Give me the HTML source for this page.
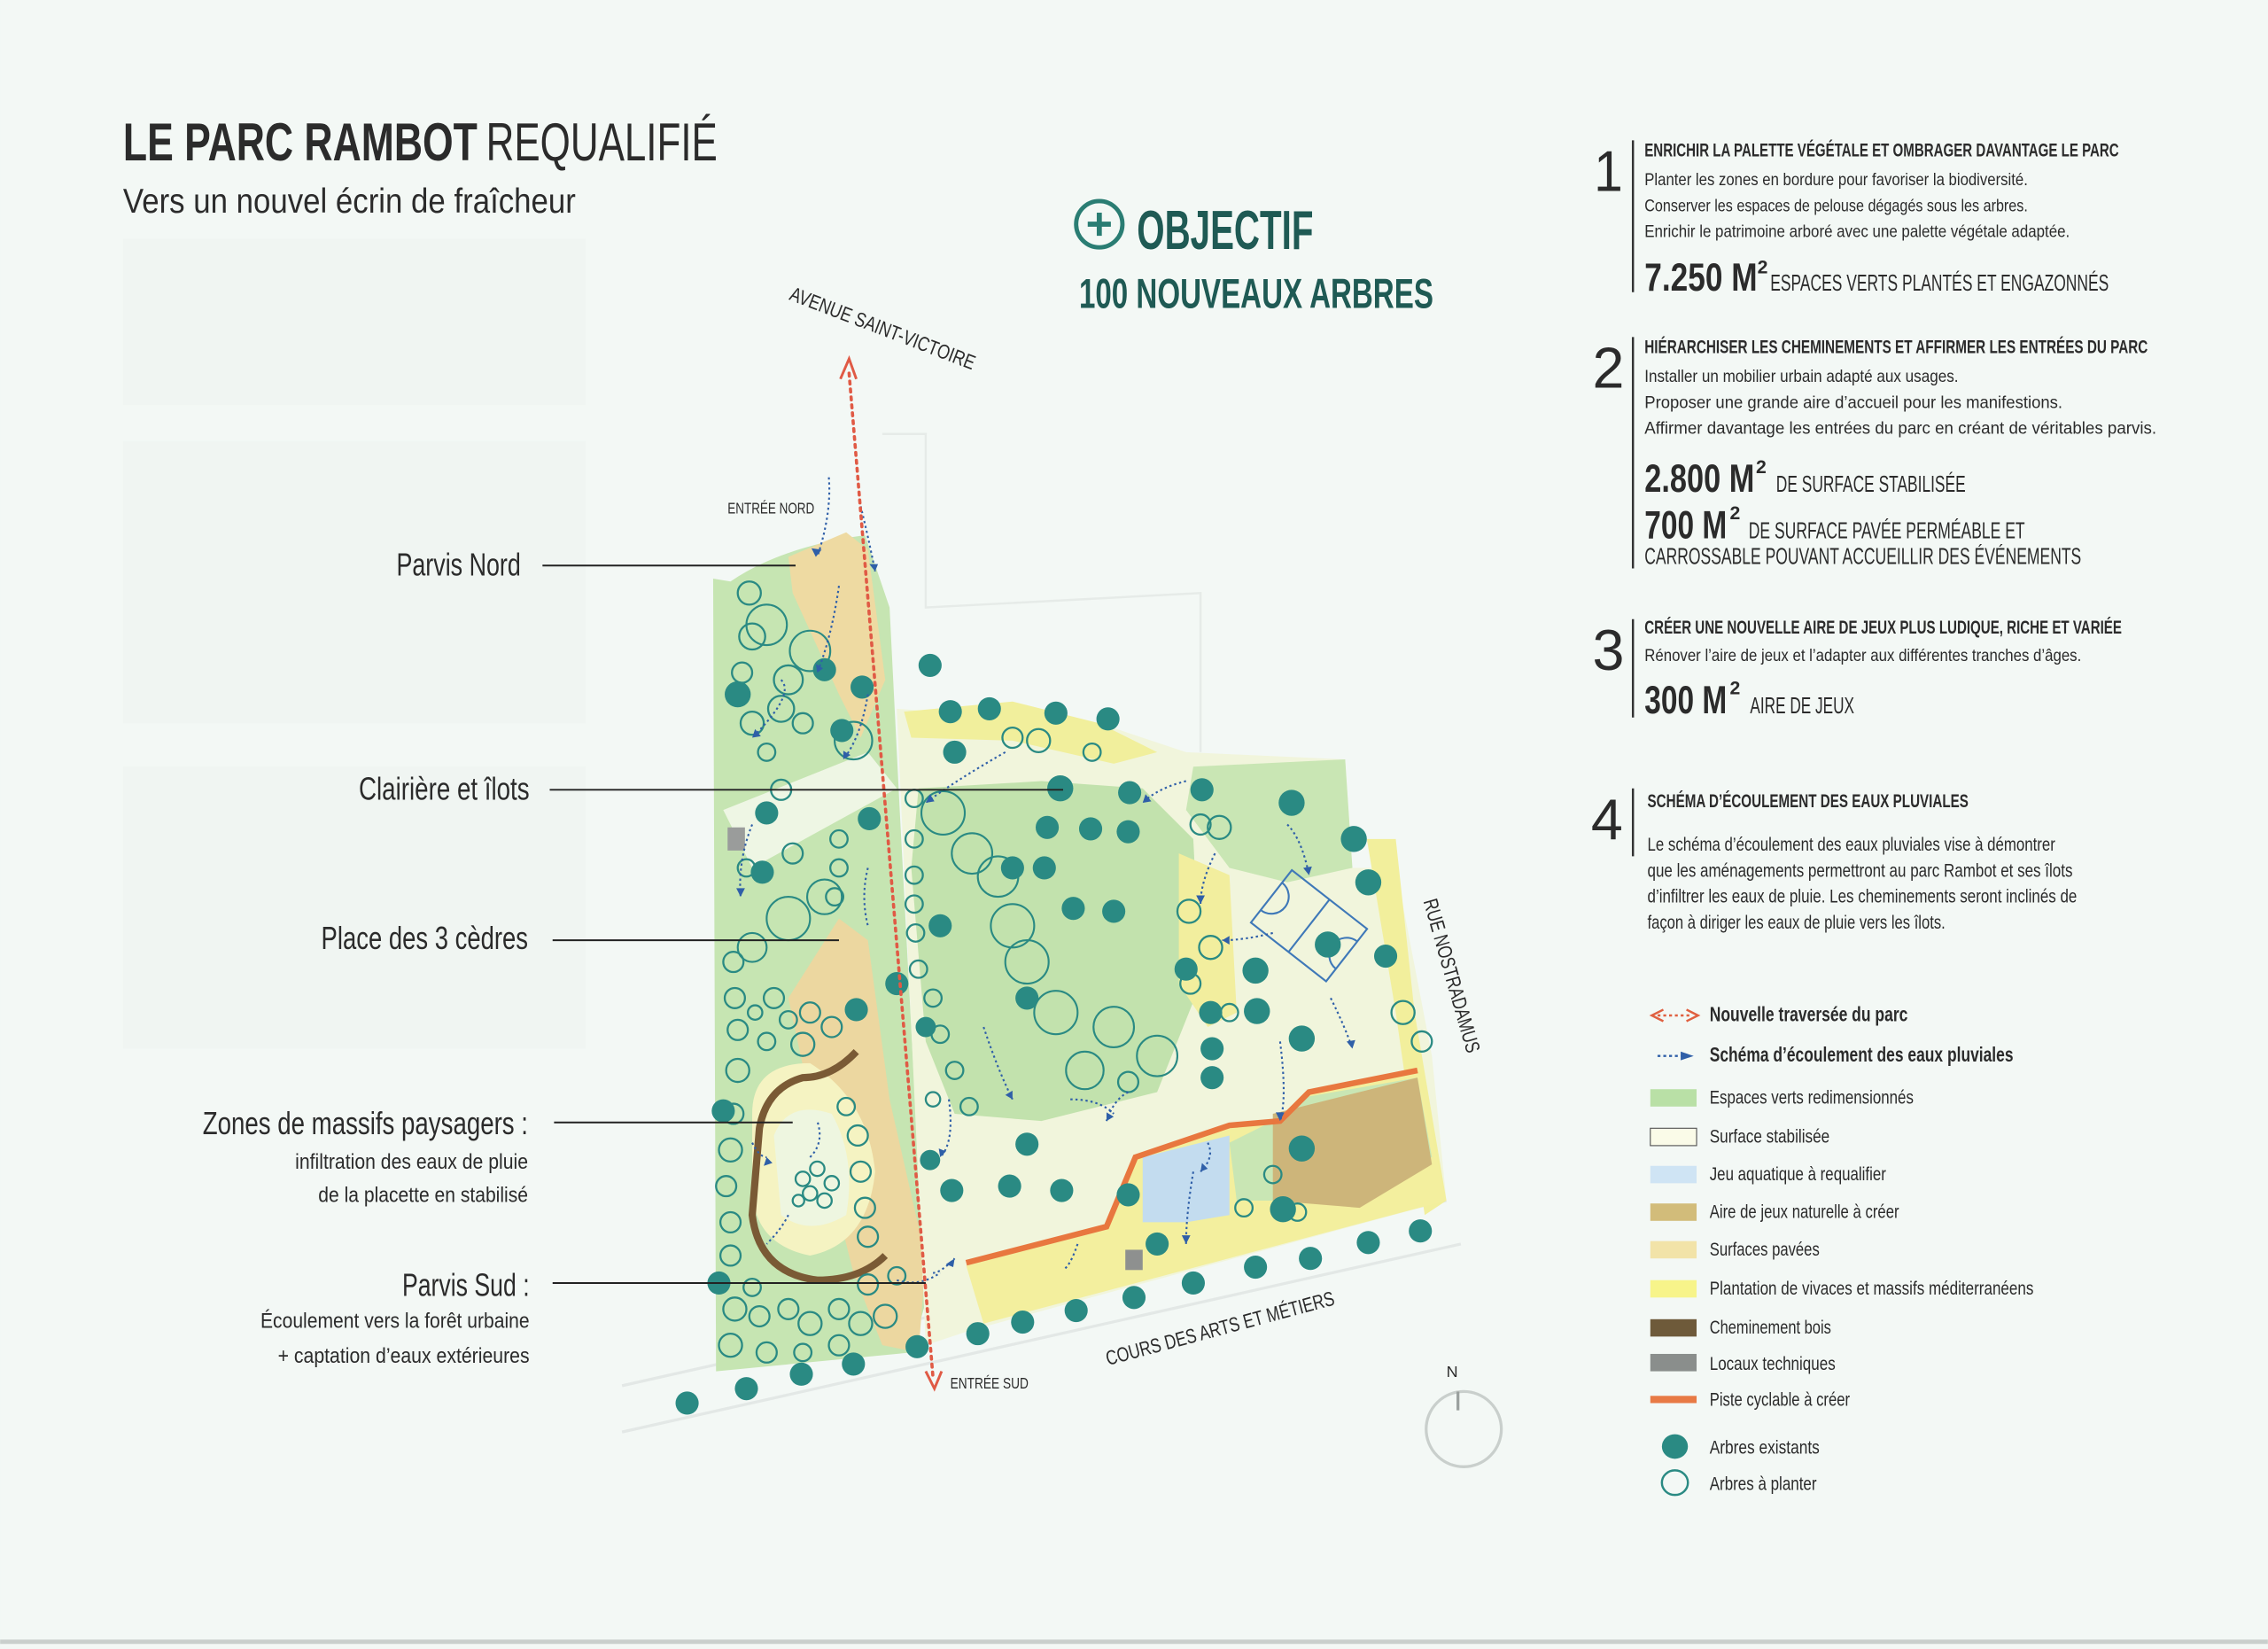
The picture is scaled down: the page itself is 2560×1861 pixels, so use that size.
<!DOCTYPE html>
<html><head><meta charset="utf-8">
<style>
html,body{margin:0;padding:0;background:#f3f8f5;}
svg{display:block;}
text{font-family:"Liberation Sans Narrow","Liberation Sans",sans-serif;fill:#2b2b2b;}
</style></head>
<body>
<svg width="2560" height="1861" viewBox="0 0 1568 1140" xmlns="http://www.w3.org/2000/svg">
<rect width="1568" height="1140" fill="#f3f8f5"/>
<g fill="#f0f5f2">
<rect x="85" y="165" width="320" height="115"/>
<rect x="85" y="305" width="320" height="195"/>
<rect x="85" y="530" width="320" height="195"/>
</g>
<g fill="none" stroke="#e6ebe8" stroke-width="1.5">
<path d="M610 300 L640 300 L640 420 L830 410 L830 520"/>
</g>
<line x1="0" y1="1135" x2="1568" y2="1135" stroke="#c9cfcc" stroke-width="3"/>

<text x="85" y="111" font-size="37" font-weight="bold" textLength="245" lengthAdjust="spacingAndGlyphs">LE PARC RAMBOT</text>
<text x="336" y="111" font-size="37" textLength="160" lengthAdjust="spacingAndGlyphs">REQUALIFIÉ</text>
<text x="85" y="147" font-size="24" textLength="313" lengthAdjust="spacingAndGlyphs">Vers un nouvel écrin de fraîcheur</text>

<circle cx="760" cy="155" r="16" fill="none" stroke="#2a7d73" stroke-width="3"/>
<path d="M752 155h16M760 147v16" stroke="#2a7d73" stroke-width="3.5"/>
<text x="786" y="172" font-size="38" font-weight="bold" style="fill:#1f5a54" textLength="122" lengthAdjust="spacingAndGlyphs">OBJECTIF</text>
<text x="746" y="213" font-size="29" font-weight="bold" style="fill:#1f5a54" textLength="245" lengthAdjust="spacingAndGlyphs">100 NOUVEAUX ARBRES</text>

<g>
<text x="1102" y="132" font-size="40" textLength="20" lengthAdjust="spacingAndGlyphs">1</text>
<line x1="1129" y1="97" x2="1129" y2="202" stroke="#333" stroke-width="1.5"/>
<text x="1137" y="108" font-size="13" font-weight="bold" textLength="328" lengthAdjust="spacingAndGlyphs">ENRICHIR LA PALETTE VÉGÉTALE ET OMBRAGER DAVANTAGE LE PARC</text>
<text x="1137" y="128" font-size="12" textLength="265" lengthAdjust="spacingAndGlyphs">Planter les zones en bordure pour favoriser la biodiversité.</text>
<text x="1137" y="146" font-size="12" textLength="265" lengthAdjust="spacingAndGlyphs">Conserver les espaces de pelouse dégagés sous les arbres.</text>
<text x="1137" y="164" font-size="12" textLength="294" lengthAdjust="spacingAndGlyphs">Enrichir le patrimoine arboré avec une palette végétale adaptée.</text>
<text x="1137" y="201" font-size="27" font-weight="bold" textLength="78" lengthAdjust="spacingAndGlyphs">7.250 M</text>
<text x="1215" y="189" font-size="13" font-weight="bold">2</text>
<text x="1224" y="201" font-size="16" textLength="234" lengthAdjust="spacingAndGlyphs">ESPACES VERTS PLANTÉS ET ENGAZONNÉS</text>

<text x="1101" y="268" font-size="40" textLength="22" lengthAdjust="spacingAndGlyphs">2</text>
<line x1="1129" y1="233" x2="1129" y2="393" stroke="#333" stroke-width="1.5"/>
<text x="1137" y="244" font-size="13" font-weight="bold" textLength="348" lengthAdjust="spacingAndGlyphs">HIÉRARCHISER LES CHEMINEMENTS ET AFFIRMER LES ENTRÉES DU PARC</text>
<text x="1137" y="264" font-size="12" textLength="217" lengthAdjust="spacingAndGlyphs">Installer un mobilier urbain adapté aux usages.</text>
<text x="1137" y="282" font-size="12" textLength="289" lengthAdjust="spacingAndGlyphs">Proposer une grande aire d’accueil pour les manifestions.</text>
<text x="1137" y="300" font-size="12" textLength="354" lengthAdjust="spacingAndGlyphs">Affirmer davantage les entrées du parc en créant de véritables parvis.</text>
<text x="1137" y="340" font-size="27" font-weight="bold" textLength="76" lengthAdjust="spacingAndGlyphs">2.800 M</text>
<text x="1214" y="327" font-size="13" font-weight="bold">2</text>
<text x="1228" y="340" font-size="16" textLength="131" lengthAdjust="spacingAndGlyphs">DE SURFACE STABILISÉE</text>
<text x="1137" y="372" font-size="27" font-weight="bold" textLength="57" lengthAdjust="spacingAndGlyphs">700 M</text>
<text x="1196" y="359" font-size="13" font-weight="bold">2</text>
<text x="1209" y="372" font-size="16" textLength="191" lengthAdjust="spacingAndGlyphs">DE SURFACE PAVÉE PERMÉABLE ET</text>
<text x="1137" y="390" font-size="16" textLength="302" lengthAdjust="spacingAndGlyphs">CARROSSABLE POUVANT ACCUEILLIR DES ÉVÉNEMENTS</text>

<text x="1101" y="463" font-size="40" textLength="22" lengthAdjust="spacingAndGlyphs">3</text>
<line x1="1129" y1="428" x2="1129" y2="496" stroke="#333" stroke-width="1.5"/>
<text x="1137" y="438" font-size="13" font-weight="bold" textLength="330" lengthAdjust="spacingAndGlyphs">CRÉER UNE NOUVELLE AIRE DE JEUX PLUS LUDIQUE, RICHE ET VARIÉE</text>
<text x="1137" y="457" font-size="12" textLength="302" lengthAdjust="spacingAndGlyphs">Rénover l’aire de jeux et l’adapter aux différentes tranches d’âges.</text>
<text x="1137" y="493" font-size="27" font-weight="bold" textLength="57" lengthAdjust="spacingAndGlyphs">300 M</text>
<text x="1196" y="480" font-size="13" font-weight="bold">2</text>
<text x="1210" y="493" font-size="16" textLength="72" lengthAdjust="spacingAndGlyphs">AIRE DE JEUX</text>

<text x="1100" y="580" font-size="40" textLength="22" lengthAdjust="spacingAndGlyphs">4</text>
<line x1="1129" y1="545" x2="1129" y2="592" stroke="#333" stroke-width="1.5"/>
<text x="1139" y="558" font-size="13" font-weight="bold" textLength="222" lengthAdjust="spacingAndGlyphs">SCHÉMA D’ÉCOULEMENT DES EAUX PLUVIALES</text>
<text x="1139" y="588" font-size="13" textLength="282" lengthAdjust="spacingAndGlyphs">Le schéma d’écoulement des eaux pluviales vise à démontrer</text>
<text x="1139" y="606" font-size="13" textLength="294" lengthAdjust="spacingAndGlyphs">que les aménagements permettront au parc Rambot et ses îlots</text>
<text x="1139" y="624" font-size="13" textLength="297" lengthAdjust="spacingAndGlyphs">d’infiltrer les eaux de pluie. Les cheminements seront inclinés de</text>
<text x="1139" y="642" font-size="13" textLength="206" lengthAdjust="spacingAndGlyphs">façon à diriger les eaux de pluie vers les îlots.</text>
</g>

<g>
<line x1="1146" y1="702" x2="1170" y2="702" stroke="#e06040" stroke-width="1.5" stroke-dasharray="2 2"/>
<path d="M1150 698l-8 4 8 4M1166 698l8 4-8 4" fill="none" stroke="#e06040" stroke-width="1.5"/>
<text x="1182" y="706" font-size="14" font-weight="bold" textLength="137" lengthAdjust="spacingAndGlyphs">Nouvelle traversée du parc</text>
<line x1="1146" y1="730" x2="1164" y2="730" stroke="#2f5fa8" stroke-width="1.5" stroke-dasharray="2 2"/>
<path d="M1162 727l9 3-9 3z" fill="#2f5fa8"/>
<text x="1182" y="734" font-size="14" font-weight="bold" textLength="210" lengthAdjust="spacingAndGlyphs">Schéma d’écoulement des eaux pluviales</text>
<rect x="1141" y="753" width="32" height="12" fill="#b9e0a6"/>
<text x="1182" y="763" font-size="13" textLength="141" lengthAdjust="spacingAndGlyphs">Espaces verts redimensionnés</text>
<rect x="1141" y="780" width="32" height="12" fill="#fafbe8" stroke="#555" stroke-width="0.7"/>
<text x="1182" y="790" font-size="13" textLength="83" lengthAdjust="spacingAndGlyphs">Surface stabilisée</text>
<rect x="1141" y="806" width="32" height="12" fill="#cfe4f4"/>
<text x="1182" y="816" font-size="13" textLength="122" lengthAdjust="spacingAndGlyphs">Jeu aquatique à requalifier</text>
<rect x="1141" y="832" width="32" height="12" fill="#d2bc7a"/>
<text x="1182" y="842" font-size="13" textLength="131" lengthAdjust="spacingAndGlyphs">Aire de jeux naturelle à créer</text>
<rect x="1141" y="858" width="32" height="12" fill="#f2e3a8"/>
<text x="1182" y="868" font-size="13" textLength="76" lengthAdjust="spacingAndGlyphs">Surfaces pavées</text>
<rect x="1141" y="885" width="32" height="12" fill="#f7f48a"/>
<text x="1182" y="895" font-size="13" textLength="224" lengthAdjust="spacingAndGlyphs">Plantation de vivaces et massifs méditerranéens</text>
<rect x="1141" y="912" width="32" height="12" fill="#6e5a3a"/>
<text x="1182" y="922" font-size="13" textLength="84" lengthAdjust="spacingAndGlyphs">Cheminement bois</text>
<rect x="1141" y="936" width="32" height="12" fill="#8a8e8c"/>
<text x="1182" y="947" font-size="13" textLength="87" lengthAdjust="spacingAndGlyphs">Locaux techniques</text>
<rect x="1141" y="965" width="32" height="5" fill="#e87a45"/>
<text x="1182" y="972" font-size="13" textLength="97" lengthAdjust="spacingAndGlyphs">Piste cyclable à créer</text>
<ellipse cx="1158" cy="1000" rx="9" ry="8.5" fill="#2a8a83"/>
<text x="1182" y="1005" font-size="13" textLength="76" lengthAdjust="spacingAndGlyphs">Arbres existants</text>
<ellipse cx="1158" cy="1025" rx="9" ry="8.5" fill="none" stroke="#2a8a83" stroke-width="1.5"/>
<text x="1182" y="1030" font-size="13" textLength="74" lengthAdjust="spacingAndGlyphs">Arbres à planter</text>
</g>

<g>
<path d="M430 958 L1000 830" stroke="#e3e8e6" stroke-width="2" fill="none"/>
<path d="M430 990 L1010 860" stroke="#e3e8e6" stroke-width="2" fill="none"/>
<path d="M505 402 Q540 378 598 370 L615 420 L622 560 L640 900 L630 935 L495 948 L493 400 Z" fill="#c6e5b2"/>
<path d="M545 385 L585 368 L600 380 L612 470 L595 510 L580 480 L548 410 Z" fill="#eedaa2"/>
<path d="M580 635 L600 650 L615 760 L640 870 L635 935 L610 930 L590 880 L560 760 L545 690 Z" fill="#ecd7a0"/>
<path d="M500 560 L600 520 L620 545 L520 600 Z" fill="#eef6e4"/>
<path d="M520 770 Q520 735 560 735 Q600 760 605 810 Q600 860 560 868 Q520 860 520 820 Z" fill="#f5f3c2"/>
<path d="M535 785 Q545 760 575 770 Q592 800 585 840 Q560 855 540 840 Z" fill="#eef6e0"/>
<path d="M620 490 L760 500 L820 520 L930 525 L935 600 L965 600 L990 730 L1000 830 L670 920 L640 930 L625 600 Z" fill="#f1f5dc"/>
<path d="M625 492 L700 485 L760 500 L800 520 L770 528 L700 512 L630 510 Z" fill="#f1ef9c"/>
<path d="M635 545 L720 540 L790 545 L825 580 L830 680 L800 755 L720 775 L660 770 L640 720 L630 600 Z" fill="#c2e2ad"/>
<path d="M825 530 L930 525 L935 600 L890 610 L850 600 L820 560 Z" fill="#c9e6b4"/>
<path d="M815 590 L850 605 L855 700 L835 710 L815 680 Z" fill="#f2ee9e"/>
<path d="M945 580 L965 580 L978 700 L1000 830 L985 840 L965 700 Z" fill="#f2ef9c"/>
<path d="M668 875 L765 850 L785 800 L850 778 L885 775 L905 755 L980 740 L1000 830 L680 915 Z" fill="#f3ef9e"/>
<path d="M850 790 L890 770 L905 758 L980 745 L990 800 L900 830 L855 830 Z" fill="#c9e6b4"/>
<path d="M880 770 L980 745 L990 805 L940 835 L880 830 Z" fill="#cdb57a"/>
<path d="M790 800 L850 785 L850 840 L820 845 L790 845 Z" fill="#c3dcef"/>
<path d="M668 873 L765 848 L785 800 L850 778 L885 775 L905 755 L980 740" fill="none" stroke="#e8773f" stroke-width="4"/>
<path d="M592 727 Q575 745 555 745 Q530 752 525 780 L520 840 Q525 880 565 885 Q595 885 612 868" fill="none" stroke="#7a5a35" stroke-width="5"/>
<rect x="503" y="572" width="12" height="16" fill="#9a9c9b"/>
<rect x="778" y="864" width="12" height="14" fill="#8e908f"/>
<g transform="rotate(38 905 640)" fill="none" stroke="#3f78b8" stroke-width="1.3">
<rect x="872" y="617" width="66" height="46"/>
<line x1="905" y1="617" x2="905" y2="663"/>
<path d="M872 628 a12 12 0 0 1 0 24"/><path d="M938 628 a12 12 0 0 0 0 24"/>
</g>

<g fill="none" stroke="#2a8a83" stroke-width="1.3">
<circle cx="530" cy="432" r="14"/><circle cx="560" cy="450" r="14"/><circle cx="590" cy="512" r="13"/>
<circle cx="652" cy="562" r="15"/><circle cx="672" cy="590" r="14"/><circle cx="690" cy="606" r="14"/>
<circle cx="700" cy="640" r="15"/><circle cx="710" cy="665" r="15"/><circle cx="730" cy="700" r="15"/>
<circle cx="770" cy="710" r="14"/><circle cx="800" cy="730" r="14"/><circle cx="750" cy="740" r="13"/>
<circle cx="545" cy="635" r="15"/><circle cx="570" cy="620" r="12"/><circle cx="520" cy="655" r="10"/>
</g>

<g fill="none" stroke="#2a8a83" stroke-width="1.4">
<circle cx="518" cy="410" r="8"/><circle cx="520" cy="440" r="9"/><circle cx="513" cy="465" r="7"/>
<circle cx="545" cy="470" r="10"/><circle cx="540" cy="490" r="9"/><circle cx="520" cy="500" r="8"/>
<circle cx="555" cy="500" r="7"/><circle cx="530" cy="520" r="6"/>
<circle cx="540" cy="546" r="7"/><circle cx="548" cy="590" r="7"/><circle cx="516" cy="600" r="6"/>
<circle cx="507" cy="665" r="7"/><circle cx="508" cy="690" r="7"/><circle cx="510" cy="712" r="7"/>
<circle cx="522" cy="700" r="5"/><circle cx="535" cy="690" r="7"/><circle cx="545" cy="705" r="6"/>
<circle cx="560" cy="700" r="7"/><circle cx="575" cy="710" r="7"/><circle cx="530" cy="720" r="6"/>
<circle cx="555" cy="722" r="8"/><circle cx="510" cy="740" r="8"/><circle cx="507" cy="770" r="7"/>
<circle cx="505" cy="795" r="8"/><circle cx="502" cy="820" r="7"/><circle cx="505" cy="845" r="7"/>
<circle cx="505" cy="868" r="7"/><circle cx="508" cy="905" r="8"/><circle cx="505" cy="930" r="8"/>
<circle cx="525" cy="910" r="7"/><circle cx="545" cy="905" r="7"/><circle cx="560" cy="915" r="8"/>
<circle cx="580" cy="905" r="7"/><circle cx="595" cy="915" r="8"/><circle cx="612" cy="910" r="8"/>
<circle cx="530" cy="935" r="7"/><circle cx="555" cy="935" r="6"/><circle cx="580" cy="930" r="7"/>
<circle cx="520" cy="890" r="6"/><circle cx="600" cy="888" r="7"/><circle cx="620" cy="882" r="6"/>
<circle cx="585" cy="765" r="6"/><circle cx="593" cy="785" r="7"/><circle cx="595" cy="810" r="7"/>
<circle cx="598" cy="835" r="7"/><circle cx="600" cy="855" r="7"/>
<circle cx="555" cy="815" r="5"/><circle cx="565" cy="808" r="5"/><circle cx="560" cy="825" r="5"/>
<circle cx="570" cy="830" r="5"/><circle cx="575" cy="818" r="5"/><circle cx="552" cy="830" r="4"/>
<circle cx="632" cy="552" r="6"/><circle cx="632" cy="580" r="6"/><circle cx="632" cy="605" r="6"/>
<circle cx="632" cy="625" r="6"/><circle cx="633" cy="645" r="6"/><circle cx="635" cy="670" r="6"/>
<circle cx="645" cy="690" r="6"/><circle cx="650" cy="715" r="6"/><circle cx="660" cy="740" r="6"/>
<circle cx="670" cy="765" r="6"/><circle cx="645" cy="760" r="5"/>
<circle cx="580" cy="580" r="6"/><circle cx="580" cy="600" r="6"/><circle cx="577" cy="620" r="6"/>
<circle cx="700" cy="510" r="7"/><circle cx="718" cy="512" r="8"/><circle cx="755" cy="520" r="6"/>
<circle cx="830" cy="570" r="7"/><circle cx="843" cy="572" r="8"/><circle cx="822" cy="630" r="8"/>
<circle cx="837" cy="655" r="8"/><circle cx="823" cy="680" r="7"/><circle cx="850" cy="700" r="6"/>
<circle cx="970" cy="700" r="8"/><circle cx="983" cy="720" r="7"/><circle cx="880" cy="812" r="6"/>
<circle cx="860" cy="835" r="6"/><circle cx="897" cy="838" r="6"/><circle cx="780" cy="748" r="7"/>
</g>

<g fill="#2a8a83">
<circle cx="570" cy="463" r="8"/><circle cx="643" cy="460" r="8"/><circle cx="657" cy="492" r="8"/>
<circle cx="684" cy="490" r="8"/><circle cx="730" cy="493" r="8"/><circle cx="766" cy="497" r="8"/>
<circle cx="733" cy="545" r="9"/><circle cx="781" cy="548" r="8"/><circle cx="831" cy="546" r="8"/>
<circle cx="893" cy="555" r="9"/><circle cx="936" cy="580" r="9"/><circle cx="946" cy="610" r="9"/>
<circle cx="958" cy="661" r="8"/><circle cx="918" cy="653" r="9"/><circle cx="868" cy="671" r="9"/>
<circle cx="869" cy="699" r="9"/><circle cx="900" cy="718" r="9"/><circle cx="838" cy="725" r="8"/>
<circle cx="838" cy="745" r="8"/><circle cx="710" cy="690" r="8"/><circle cx="710" cy="791" r="8"/>
<circle cx="658" cy="823" r="8"/><circle cx="698" cy="820" r="8"/><circle cx="734" cy="823" r="8"/>
<circle cx="780" cy="826" r="8"/><circle cx="900" cy="794" r="9"/><circle cx="887" cy="836" r="9"/>
<circle cx="800" cy="860" r="8"/><circle cx="946" cy="859" r="8"/><circle cx="982" cy="851" r="8"/>
<circle cx="906" cy="870" r="8"/><circle cx="868" cy="876" r="8"/><circle cx="825" cy="887" r="8"/>
<circle cx="784" cy="897" r="8"/><circle cx="744" cy="906" r="8"/><circle cx="707" cy="914" r="8"/>
<circle cx="676" cy="922" r="8"/><circle cx="634" cy="931" r="8"/><circle cx="590" cy="943" r="8"/>
<circle cx="554" cy="950" r="8"/><circle cx="516" cy="960" r="8"/><circle cx="475" cy="970" r="8"/>
<circle cx="530" cy="562" r="8"/><circle cx="601" cy="566" r="8"/><circle cx="527" cy="603" r="8"/>
<circle cx="596" cy="475" r="8"/><circle cx="724" cy="572" r="8"/><circle cx="754" cy="573" r="8"/>
<circle cx="722" cy="600" r="8"/><circle cx="500" cy="768" r="8"/><circle cx="497" cy="887" r="8"/>
<circle cx="510" cy="480" r="9"/><circle cx="582" cy="505" r="8"/><circle cx="700" cy="600" r="8"/>
<circle cx="650" cy="640" r="8"/><circle cx="770" cy="630" r="8"/><circle cx="640" cy="710" r="7"/>
<circle cx="660" cy="520" r="8"/><circle cx="780" cy="575" r="8"/><circle cx="820" cy="670" r="8"/>
<circle cx="643" cy="802" r="7"/><circle cx="837" cy="700" r="8"/><circle cx="592" cy="698" r="8"/>
<circle cx="742" cy="628" r="8"/><circle cx="620" cy="680" r="8"/>
</g>

<g fill="none" stroke="#2f5fa8" stroke-width="1.3" stroke-dasharray="1.5 2">
<path d="M573 330 Q575 355 565 385"/><path d="M595 350 Q600 370 605 395"/>
<path d="M580 405 Q575 440 565 465"/><path d="M540 470 Q550 480 520 510"/>
<path d="M600 480 Q595 510 583 525"/><path d="M520 570 Q510 595 512 620"/>
<path d="M600 600 Q595 620 600 640"/><path d="M695 520 Q660 540 640 555"/>
<path d="M820 540 Q800 545 790 555"/><path d="M840 590 Q830 610 830 625"/>
<path d="M890 570 Q900 580 905 605"/><path d="M880 645 Q860 650 845 650"/>
<path d="M920 690 Q930 710 935 725"/><path d="M885 720 Q890 760 885 775"/>
<path d="M835 790 Q840 800 830 810"/><path d="M780 755 Q770 760 765 775"/>
<path d="M740 760 Q760 760 770 770"/><path d="M680 710 Q690 740 700 760"/>
<path d="M520 790 Q525 800 530 800"/><path d="M560 800 Q570 790 565 775"/>
<path d="M545 840 Q540 850 530 860"/><path d="M645 880 Q650 880 660 870"/>
<path d="M620 885 Q635 890 650 880"/><path d="M656 760 Q660 790 650 800"/>
<path d="M745 860 Q740 875 735 878"/><path d="M825 810 Q820 840 820 860"/>
</g>
<g fill="#2f5fa8">
<path d="M564 385l-3-6 7 1z"/><path d="M605 395l-4-5 6 0z"/><path d="M565 465l-1-6 5 3z"/>
<path d="M520 510l2-6 4 5z"/><path d="M583 525l0-6 5 3z"/><path d="M512 620l-3-6 6 0z"/>
<path d="M640 555l3-6 3 5z"/><path d="M790 555l2-6 4 5z"/><path d="M830 625l-3-6 6 0z"/>
<path d="M905 605l-4-5 6-1z"/><path d="M845 650l5-3 0 6z"/><path d="M935 725l-4-5 6-1z"/>
<path d="M885 775l-3-6 6 0z"/><path d="M830 810l1-6 4 4z"/><path d="M765 775l0-6 5 3z"/>
<path d="M700 760l-5-3 5-3z"/><path d="M530 800l-2 6 6-2z"/><path d="M660 870l-1 6-5-2z"/>
<path d="M820 860l-3-6 6 0z"/><path d="M650 800l-1-6 5 2z"/>
</g>

<line x1="587" y1="258" x2="645" y2="952" stroke="#e05a45" stroke-width="2.2" stroke-dasharray="2 3.5" stroke-linecap="round"/>
<path d="M581 262 L587 248 L592 262" fill="none" stroke="#e05a45" stroke-width="1.8"/>
<path d="M640 948 L646 960 L651 948" fill="none" stroke="#e05a45" stroke-width="1.8"/>

<text x="503" y="355" font-size="11" textLength="60" lengthAdjust="spacingAndGlyphs">ENTRÉE NORD</text>
<text x="657" y="960" font-size="11" textLength="54" lengthAdjust="spacingAndGlyphs">ENTRÉE SUD</text>
<text transform="translate(545 207) rotate(21)" font-size="14" textLength="136" lengthAdjust="spacingAndGlyphs">AVENUE SAINT-VICTOIRE</text>
<text transform="translate(984 623) rotate(74)" font-size="14" textLength="110" lengthAdjust="spacingAndGlyphs">RUE NOSTRADAMUS</text>
<text transform="translate(766 944) rotate(-15)" font-size="14" textLength="163" lengthAdjust="spacingAndGlyphs">COURS DES ARTS ET MÉTIERS</text>
<circle cx="1012" cy="988" r="26" fill="none" stroke="#c9cfcc" stroke-width="2"/>
<line x1="1008" y1="962" x2="1008" y2="975" stroke="#9aa09e" stroke-width="2"/>
<text x="1000" y="952" font-size="11">N</text>
</g>

<g stroke="#222" stroke-width="1.2">
<line x1="375" y1="391" x2="550" y2="391"/>
<line x1="380" y1="546" x2="735" y2="546"/>
<line x1="382" y1="650" x2="580" y2="650"/>
<line x1="383" y1="776" x2="548" y2="776"/>
<line x1="382" y1="887" x2="640" y2="887"/>
</g>
<g text-anchor="end">
<text x="360" y="398" font-size="22" textLength="86" lengthAdjust="spacingAndGlyphs">Parvis Nord</text>
<text x="366" y="553" font-size="22" textLength="118" lengthAdjust="spacingAndGlyphs">Clairière et îlots</text>
<text x="365" y="656" font-size="22" textLength="143" lengthAdjust="spacingAndGlyphs">Place des 3 cèdres</text>
<text x="365" y="784" font-size="22" textLength="225" lengthAdjust="spacingAndGlyphs">Zones de massifs paysagers :</text>
<text x="365" y="808" font-size="15" textLength="161" lengthAdjust="spacingAndGlyphs">infiltration des eaux de pluie</text>
<text x="365" y="831" font-size="15" textLength="145" lengthAdjust="spacingAndGlyphs">de la placette en stabilisé</text>
<text x="366" y="896" font-size="22" textLength="88" lengthAdjust="spacingAndGlyphs">Parvis Sud :</text>
<text x="366" y="918" font-size="15" textLength="186" lengthAdjust="spacingAndGlyphs">Écoulement vers la forêt urbaine</text>
<text x="366" y="942" font-size="15" textLength="174" lengthAdjust="spacingAndGlyphs">+ captation d’eaux extérieures</text>
</g>
</svg>
</body></html>
